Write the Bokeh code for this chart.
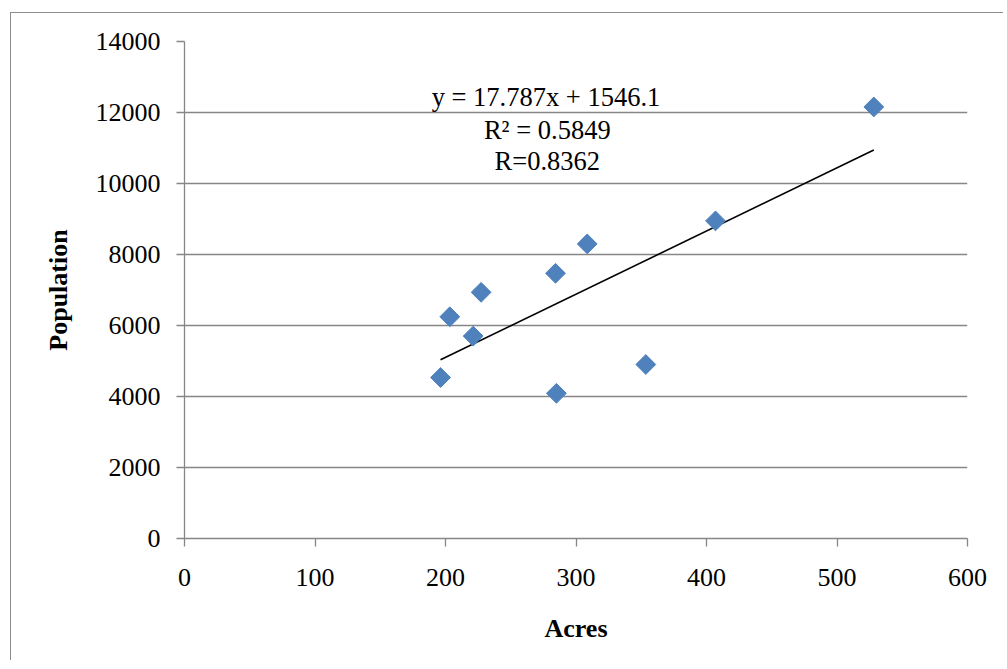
import math
from bokeh.plotting import figure
from bokeh.models import Range1d, FixedTicker, Label
from bokeh.embed import file_html
from bokeh.resources import INLINE

acres = [196.2, 203.3, 221.2, 227.3, 284.3, 285.0, 308.6, 353.5, 406.9, 528.2]
population = [4535, 6246, 5701, 6935, 7471, 4090, 8298, 4902, 8947, 12156]
slope = 17.787
intercept = 1546.1
eq_lines = ["y = 17.787x + 1546.1", "R² = 0.5849", "R=0.8362"]
x_ticks = [0, 100, 200, 300, 400, 500, 600]
y_ticks = [0, 2000, 4000, 6000, 8000, 10000, 12000, 14000]

FONT = "Liberation Serif"
GRID = "#868686"

p = figure(width=993, height=648, output_backend="svg", toolbar_location=None,
           x_range=Range1d(0, 600), y_range=Range1d(0, 14000),
           min_border_left=173, min_border_top=28, min_border_right=37, min_border_bottom=123)
p.styles = {"border-left": "1px solid #8c8c8c", "border-top": "1px solid #8c8c8c",
            "margin-left": "10px", "margin-top": "12px"}
p.outline_line_color = None
p.background_fill_color = "white"
p.border_fill_color = "white"

p.xgrid.grid_line_color = None
p.ygrid.grid_line_color = GRID
p.ygrid.grid_line_width = 1.3
p.ygrid.ticker = FixedTicker(ticks=y_ticks)

for ax, ticks in ((p.xaxis[0], x_ticks), (p.yaxis[0], y_ticks)):
    ax.ticker = FixedTicker(ticks=ticks)
    ax.axis_line_color = GRID
    ax.axis_line_width = 1.3
    ax.major_tick_line_color = GRID
    ax.major_tick_line_width = 1.3
    ax.major_tick_out = 8
    ax.major_tick_in = 0
    ax.minor_tick_line_color = None
    ax.major_label_text_font = FONT
    ax.major_label_text_font_size = "26px"
    ax.major_label_text_color = "black"
    ax.axis_label_text_font = FONT
    ax.axis_label_text_font_size = "26px"
    ax.axis_label_text_font_style = "bold"
    ax.axis_label_text_color = "black"

p.xaxis.axis_label = "Acres"
p.yaxis.axis_label = "Population"
p.xaxis.major_label_standoff = 22
p.yaxis.major_label_standoff = 16
p.xaxis.axis_label_standoff = 25
p.yaxis.axis_label_standoff = 20

# trendline over the data's x extent
x0, x1 = min(acres), max(acres)
p.line([x0, x1], [slope * x0 + intercept, slope * x1 + intercept], line_color="black", line_width=1.6)

p.scatter(acres, population, marker="square", angle=math.pi / 4, size=14,
          fill_color="#4F81BD", line_color="#4F81BD")

label_x = [277, 278, 278]
label_y = [12447, 11515, 10640]
for t, lx, ly in zip(eq_lines, label_x, label_y):
    p.add_layout(Label(x=lx, y=ly, text=t, text_font=FONT, text_font_size="26.5px",
                       text_align="center", text_baseline="middle", text_color="black"))

open("out.html", "w").write(file_html(p, INLINE))
